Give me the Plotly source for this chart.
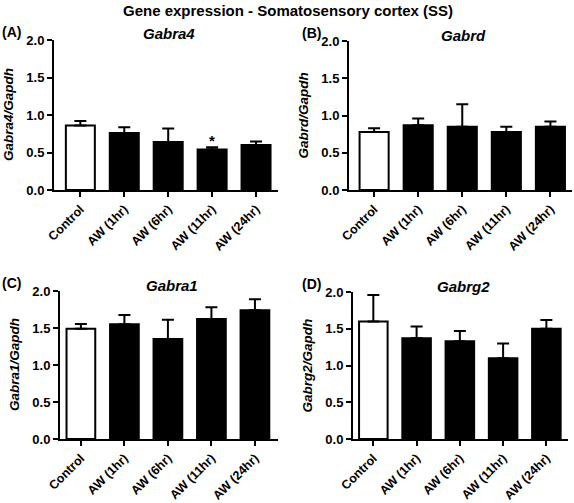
import plotly.graph_objects as go

# ---------------- data ----------------
categories = ["Control", "AW (1hr)", "AW (6hr)", "AW (11hr)", "AW (24hr)"]

gabra4_mean = [0.86, 0.76, 0.64, 0.54, 0.60]
gabra4_sem = [0.06, 0.075, 0.18, 0.03, 0.045]

gabrd_mean = [0.78, 0.87, 0.85, 0.78, 0.85]
gabrd_sem = [0.05, 0.09, 0.30, 0.07, 0.07]

gabra1_mean = [1.49, 1.55, 1.35, 1.62, 1.74]
gabra1_sem = [0.065, 0.125, 0.26, 0.16, 0.15]

gabrg2_mean = [1.60, 1.37, 1.33, 1.10, 1.50]
gabrg2_sem = [0.36, 0.16, 0.14, 0.20, 0.12]

y_ticks = [0.0, 0.5, 1.0, 1.5, 2.0]
main_title = "Gene expression - Somatosensory cortex (SS)"

panels = [
    # letter, gene, mean, sem
    ("(A)", "Gabra4", gabra4_mean, gabra4_sem),
    ("(B)", "Gabrd", gabrd_mean, gabrd_sem),
    ("(C)", "Gabra1", gabra1_mean, gabra1_sem),
    ("(D)", "Gabrg2", gabrg2_mean, gabrg2_sem),
]

# ---------------- layout geometry (pixels) ----------------
W, H = 574, 503
FONT = "Arial"

# x0, x1 (px), y_top (value 2.0), y_bottom (value 0), x-range
geom = [
    (54, 278, 40, 190, [-0.6, 4.5]),
    (349, 572, 41, 190, [-0.57, 4.49]),
    (60, 278, 291, 439, [-0.48, 4.53]),
    (353, 568, 292, 439, [-0.47, 4.5]),
]


def px_x(p):
    return p / W


def px_y(p):
    return 1 - p / H


fig = go.Figure()
annotations = []

bar_colors = ["white"] + ["black"] * (len(categories) - 1)

for i, ((letter, gene, mean, sem), (x0, x1, yt, yb, xr)) in enumerate(zip(panels, geom)):
    n = i + 1
    xa = "x" if n == 1 else f"x{n}"
    ya = "y" if n == 1 else f"y{n}"
    fig.add_trace(go.Bar(
        x=categories, y=mean,
        marker=dict(color=bar_colors, line=dict(color="black", width=2)),
        width=0.66,
        error_y=dict(type="data", array=sem, arrayminus=[0] * len(sem),
                     symmetric=False, color="black", thickness=2, width=6),
        xaxis=xa, yaxis=ya, showlegend=False, hoverinfo="skip",
    ))
    axis_common = dict(showline=True, linecolor="black", linewidth=2,
                       ticks="outside", ticklen=5, tickwidth=2, tickcolor="black",
                       showgrid=False, zeroline=False, automargin=False)
    fig.layout[f"xaxis{'' if n == 1 else n}"] = dict(
        domain=[px_x(x0), px_x(x1)], anchor=ya, range=xr,
        tickangle=-45, type="category",
        tickfont=dict(family=FONT, size=12.5, color="black", weight="bold"),
        **axis_common)
    fig.layout[f"yaxis{'' if n == 1 else n}"] = dict(
        domain=[px_y(yb), px_y(yt)], anchor=xa, range=[0, 2.0],
        tickvals=y_ticks, ticktext=[f"{v:.1f}" for v in y_ticks],
        tickfont=dict(family=FONT, size=13, color="black", weight="bold"),
        **axis_common)

    # panel title
    annotations.append(dict(
        text=gene, x=px_x((x0 + x1) / 2 + 3), y=px_y(yt - 6), xref="paper", yref="paper",
        showarrow=False, xanchor="center", yanchor="middle",
        font=dict(family=FONT, size=15, color="black", weight="bold", style="italic")))
    # panel letter
    lx = 0 if i % 2 == 0 else 300
    annotations.append(dict(
        text=letter, x=px_x(lx), y=px_y(yt - 8), xref="paper", yref="paper",
        showarrow=False, xanchor="left", yanchor="middle",
        font=dict(family=FONT, size=14, color="black", weight="bold")))
    # y-axis title
    annotations.append(dict(
        text=f"{gene}/Gapdh", x=px_x(x0 - 46), y=px_y((yt + yb) / 2),
        xref="paper", yref="paper", textangle=-90,
        showarrow=False, xanchor="center", yanchor="middle",
        font=dict(family=FONT, size=13.5, color="black", weight="bold", style="italic")))

# significance marker on Gabra4 AW (11hr)
annotations.append(dict(
    text="*", x="AW (11hr)", y=0.66, xref="x", yref="y", showarrow=False,
    xanchor="center", yanchor="middle",
    font=dict(family=FONT, size=15, color="black", weight="bold")))

# main title
annotations.append(dict(
    text=main_title, x=px_x(288), y=px_y(10), xref="paper", yref="paper",
    showarrow=False, xanchor="center", yanchor="middle",
    font=dict(family=FONT, size=15, color="black", weight="bold")))

fig.update_layout(
    template="none",
    width=W, height=H, autosize=False,
    margin=dict(l=0, r=0, t=0, b=0, autoexpand=False),
    paper_bgcolor="white", plot_bgcolor="white",
    annotations=annotations,
    bargap=0.34,
)

fig.write_html("out.html", config={"displayModeBar": False},
               post_script="document.body.style.margin='0px';")
